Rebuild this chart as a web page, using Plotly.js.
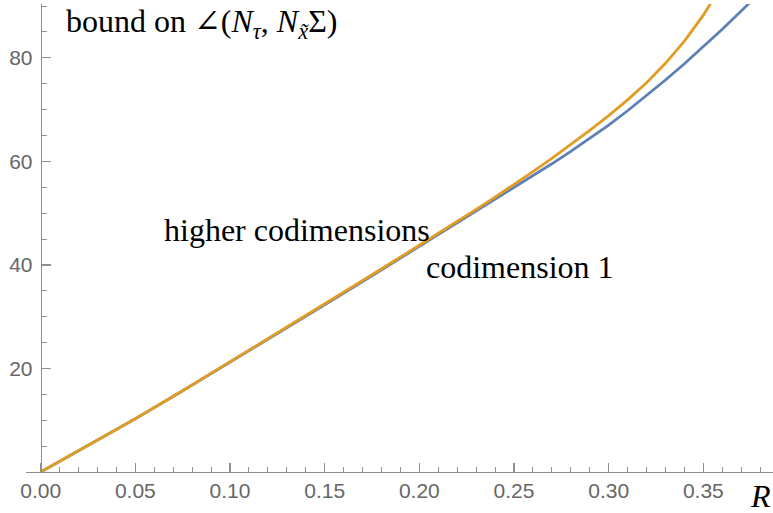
<!DOCTYPE html>
<html>
<head>
<meta charset="utf-8">
<script src="https://cdn.plot.ly/plotly-3.0.1.min.js"></script>
<style>html,body{margin:0;padding:0;background:#fff;}#chart{width:773px;height:513px;}</style>
</head>
<body>
<div id="chart"></div>
<script>
// codimension 1 (blue)
const rCodim1 = [0, 0.025, 0.05, 0.075, 0.1, 0.125, 0.15, 0.175, 0.2, 0.21, 0.22, 0.23, 0.24, 0.25, 0.26, 0.27, 0.28, 0.29, 0.3, 0.31, 0.32, 0.33, 0.34, 0.35, 0.36, 0.37, 0.38];
const vCodim1 = [0, 5.1, 10.3, 15.7, 21.2, 26.7, 32.3, 37.9, 43.6, 45.82, 48.05, 50.3, 52.57, 54.86, 57.18, 59.53, 61.94, 64.4, 67.0, 69.78, 72.68, 75.71, 78.86, 82.13, 85.52, 89.03, 92.66];
// higher codimensions (orange)
const rHigher = [0, 0.025, 0.05, 0.075, 0.1, 0.125, 0.15, 0.175, 0.2, 0.21, 0.22, 0.23, 0.24, 0.25, 0.26, 0.27, 0.28, 0.29, 0.3, 0.31, 0.32, 0.33, 0.34, 0.35, 0.355, 0.36];
const vHigher = [0, 5.1, 10.3, 15.7, 21.3, 26.8, 32.4, 38.1, 43.8, 46.08, 48.39, 50.73, 53.11, 55.54, 58.03, 60.59, 63.23, 65.97, 68.84, 71.89, 75.19, 78.94, 83.24, 88.24, 91.2, 94.2];

const xTickVals = [0, 0.05, 0.1, 0.15, 0.2, 0.25, 0.3, 0.35];
const xTickText = ['0.00', '0.05', '0.10', '0.15', '0.20', '0.25', '0.30', '0.35'];
const yTickVals = [20, 40, 60, 80];
const yTickText = ['20', '40', '60', '80'];

const labelTitle = 'bound on <span style="font-family:DejaVu Serif">∠</span>(<i>N</i><sub><i>τ</i></sub>, <i>N</i><sub><i>x̃</i></sub>Σ)';
const labelHigher = 'higher codimensions';
const labelCodim1 = 'codimension 1';
const labelX = '<i>R</i>';

const axisColor = '#8f8f8f';
const tickFont = {family: 'Liberation Sans, Arial, sans-serif', size: 21, color: '#666666'};
const serif = {family: 'Liberation Serif, Times New Roman, serif', size: 32, color: '#000000'};

const traces = [
  {x: rCodim1, y: vCodim1, type: 'scatter', mode: 'lines',
   line: {color: '#5E81B5', width: 2.8}, hoverinfo: 'skip'},
  {x: rHigher, y: vHigher, type: 'scatter', mode: 'lines',
   line: {color: '#E19C24', width: 2.8}, hoverinfo: 'skip'}
];

const L = 26, R = 0, T = 4, B = 41, W = 773, H = 513;
const pw = W - L - R, ph = H - T - B;
const px = v => (v - L) / pw;
const py = v => (H - B - v) / ph;

const xmin = -0.00776, xmax = 0.3868;

const layout = {
  width: W, height: H,
  margin: {l: L, r: R, t: T, b: B, pad: 0},
  paper_bgcolor: '#ffffff', plot_bgcolor: '#ffffff',
  showlegend: false,
  xaxis: {
    range: [xmin, xmax], showgrid: false, zeroline: false,
    showline: true, linecolor: axisColor, linewidth: 1.2,
    ticks: 'inside', ticklen: 9, tickwidth: 1.2, tickcolor: axisColor,
    tickmode: 'array', tickvals: xTickVals, ticktext: xTickText,
    tickfont: tickFont,
    minor: {tickmode: 'linear', tick0: 0, dtick: 0.01, ticks: 'inside', ticklen: 5, tickwidth: 1, tickcolor: axisColor, showgrid: false},
    fixedrange: true
  },
  yaxis: {
    range: [0, 90.4], showgrid: false, zeroline: false,
    anchor: 'free', position: (0 - xmin) / (xmax - xmin),
    showline: true, linecolor: axisColor, linewidth: 1.2,
    ticks: 'inside', ticklen: 9, tickwidth: 1.2, tickcolor: axisColor,
    tickmode: 'array', tickvals: yTickVals, ticktext: yTickText,
    tickfont: tickFont, ticklabelstandoff: 4,
    minor: {tickmode: 'linear', tick0: 0, dtick: 5, ticks: 'inside', ticklen: 5, tickwidth: 1, tickcolor: axisColor, showgrid: false},
    fixedrange: true
  },
  annotations: [
    {text: labelTitle, xref: 'paper', yref: 'paper', x: px(64), y: py(23), xanchor: 'left', yanchor: 'middle', showarrow: false, font: serif},
    {text: labelHigher, xref: 'paper', yref: 'paper', x: px(162), y: py(230), xanchor: 'left', yanchor: 'middle', showarrow: false, font: serif},
    {text: labelCodim1, xref: 'paper', yref: 'paper', x: px(424), y: py(267), xanchor: 'left', yanchor: 'middle', showarrow: false, font: serif},
    {text: labelX, xref: 'paper', yref: 'paper', x: 1, y: py(496), xanchor: 'right', yanchor: 'middle', showarrow: false, font: serif}
  ]
};

Plotly.newPlot('chart', traces, layout, {displayModeBar: false, staticPlot: true});
</script>
</body>
</html>
